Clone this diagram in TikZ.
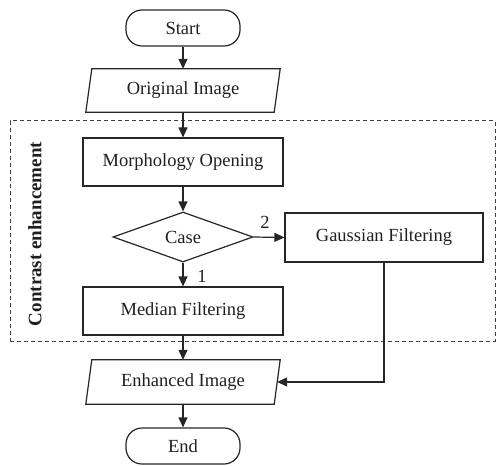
\documentclass[tikz,border=0pt]{standalone}
\usepackage{fontspec}
\setmainfont{Liberation Serif}
\usetikzlibrary{shapes.geometric,arrows.meta}
\tikzset{
  ln/.style={draw=black!85, line width=1.2pt},
  arr/.style={ln, -{Triangle[length=10pt,width=9pt]}},
  term/.style={ln, rectangle, rounded corners=16pt, minimum width=114pt, minimum height=36pt, inner sep=0pt},
  proc/.style={ln, rectangle, minimum width=200pt, minimum height=48pt, inner sep=0pt},
  io/.style={rectangle, minimum width=188pt, minimum height=43pt, inner sep=0pt},
  dec/.style={ln, diamond, minimum width=140pt, minimum height=50pt, inner sep=0pt},
  lbl/.style={inner sep=0pt},
  frame/.style={draw=black!75, line width=1pt, dash pattern=on 4pt off 3pt, rectangle, inner sep=0pt}
}
\begin{document}
\begin{tikzpicture}[x=1pt,y=-1pt, font=\fontsize{18.5}{22}\selectfont, text=black!88]
\useasboundingbox (0,0) rectangle (497,465);
\node[frame, minimum width=485pt, minimum height=220pt] (grp) at (252.5,231) {};
\node[lbl, rotate=90, font=\fontsize{19}{22}\selectfont\bfseries] (grplbl) at (35,234) {Contrast enhancement};

\node[term] (start) at (183,28) {Start};
\node[io] (orig) at (183,90.5) {Original Image};
\draw[ln] ([xshift=-3pt]orig.south west) -- ([xshift=-3pt]orig.south east) -- ([xshift=3pt]orig.north east) -- ([xshift=3pt]orig.north west) -- cycle;
\node[proc] (morph) at (183,162) {Morphology Opening};
\node[dec] (case) at (183,237) {Case};
\node[proc, minimum width=198pt, minimum height=49pt] (gauss) at (384,237.5) {Gaussian Filtering};
\node[proc] (median) at (183,311) {Median Filtering};
\node[io, minimum height=44pt] (enh) at (183,382) {Enhanced Image};
\draw[ln] ([xshift=-3pt]enh.south west) -- ([xshift=-3pt]enh.south east) -- ([xshift=3pt]enh.north east) -- ([xshift=3pt]enh.north west) -- cycle;
\node[term] (end) at (183,446) {End};

\draw[arr] (start) -- (orig.north);
\draw[arr] (orig.south) -- (morph);
\draw[arr] (morph) -- (case);
\draw[arr] (case.east) -- (gauss.west);
\draw[arr] (case.south) -- (median);
\draw[arr] (median) -- (enh.north);
\draw[arr] (gauss.south) |- (enh.east);
\draw[arr] (enh.south) -- (end);

\node[lbl] (two) at (265,222) {2};
\node[lbl] (one) at (202,276) {1};
\end{tikzpicture}
\end{document}
